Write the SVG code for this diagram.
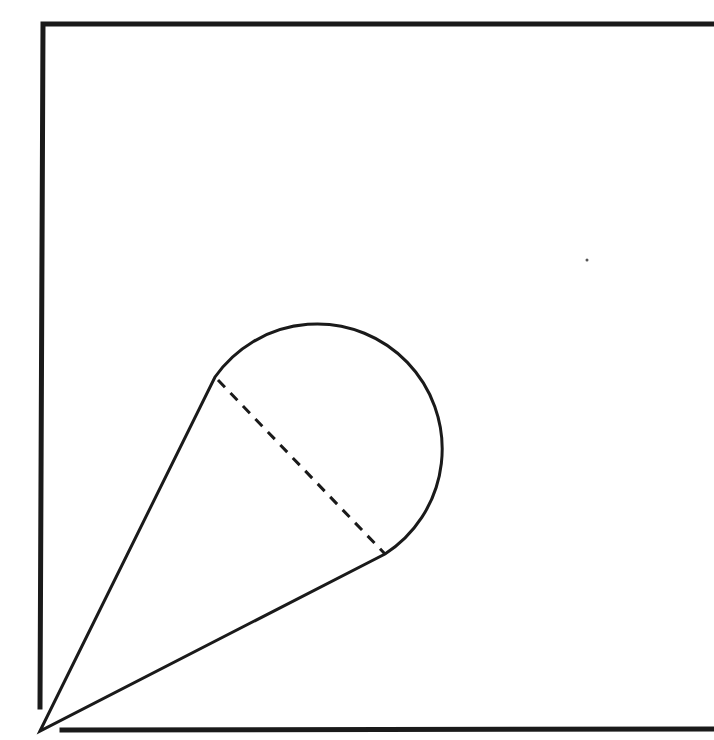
<svg xmlns="http://www.w3.org/2000/svg" width="714" height="740" viewBox="0 0 714 740">
<style>
.frame{fill:none;stroke:#1a1a1a;stroke-width:5;stroke-linecap:square}
.line{fill:none;stroke:#1a1a1a;stroke-width:3;stroke-linecap:round}
.dash{fill:none;stroke:#1a1a1a;stroke-width:3;stroke-dasharray:10 8}
</style>
<rect width="714" height="740" fill="#ffffff"/>
<g id="frame">
<polyline class="frame" points="40,707 43,24 712,24"/>
<line class="frame" x1="62" y1="730" x2="714" y2="729"/>
</g>
<g id="cone">
<path class="line" d="M40,731 L215,377 A125,125 0 1 1 385,554 Z"/>
<line class="dash" x1="218" y1="380" x2="385" y2="554"/>
</g>
<circle cx="587" cy="260" r="1.5" fill="#555"/>
</svg>
